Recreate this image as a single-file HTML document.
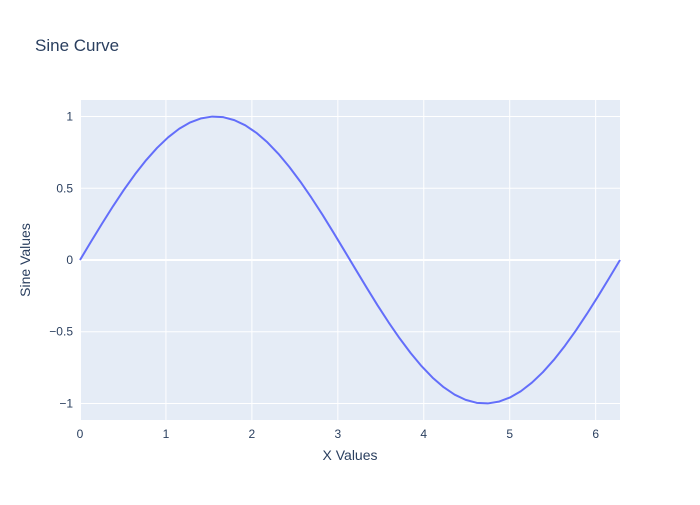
<!DOCTYPE html>
<html><head><meta charset="utf-8"><style>
body{margin:0;background:#fff;font-family:"Liberation Sans",sans-serif}
svg text{font-family:"Liberation Sans",sans-serif;fill:#2a3f5f}
</style></head><body>
<svg id="chart" width="700" height="500" xmlns="http://www.w3.org/2000/svg">
<rect width="700" height="500" fill="#fff"/>
<text x="35" y="51" font-size="17">Sine Curve</text>
<rect x="80" y="100" width="540" height="320" fill="#e5ecf6"/>
<g id="grid"></g><g id="ticks"></g>
<path id="line" fill="none" stroke="#636efa" stroke-width="2" stroke-linejoin="round"/>
<text x="350" y="460" font-size="14" text-anchor="middle">X Values</text>
<text transform="translate(30,260) rotate(-90)" font-size="14" text-anchor="middle">Sine Values</text>
</svg>
<script>
const xVals=[0,0.1282,0.2565,0.3847,0.5129,0.6411,0.7694,0.8976,1.0258,1.1541,1.2823,1.4105,1.5387,1.6670,1.7952,1.9234,2.0517,2.1799,2.3081,2.4363,2.5646,2.6928,2.8210,2.9493,3.0775,3.2057,3.3339,3.4622,3.5904,3.7186,3.8468,3.9751,4.1033,4.2315,4.3598,4.4880,4.6162,4.7444,4.8727,5.0009,5.1291,5.2574,5.3856,5.5138,5.6420,5.7703,5.8985,6.0267,6.1550,6.2832];
const yVals=[0,0.1279,0.2537,0.3753,0.4907,0.5981,0.6956,0.7818,0.8551,0.9148,0.9587,0.9872,0.9995,0.9954,0.9749,0.9384,0.8866,0.8205,0.7403,0.6482,0.5455,0.4339,0.3156,0.1912,0.0641,-0.0641,-0.1912,-0.3156,-0.4339,-0.5455,-0.6482,-0.7403,-0.8205,-0.8866,-0.9384,-0.9749,-0.9954,-0.9995,-0.9872,-0.9587,-0.9148,-0.8551,-0.7818,-0.6956,-0.5981,-0.4907,-0.3753,-0.2537,-0.1279,0];
const xTicks=[0,1,2,3,4,5,6];
const yTicks=[-1,-0.5,0,0.5,1];
const yTickLabels=["\u22121","\u22120.5","0","0.5","1"];
const X0=0,X1=6.2832,Y0=-1.115,Y1=1.115;
const sx=v=>80+(v-X0)/(X1-X0)*540;
const sy=v=>420-(v-Y0)/(Y1-Y0)*320;
const NS="http://www.w3.org/2000/svg";
const grid=document.getElementById('grid'),ticks=document.getElementById('ticks');
function mk(t,a,p){const e=document.createElementNS(NS,t);for(const k in a)e.setAttribute(k,a[k]);p.appendChild(e);return e;}
xTicks.forEach(t=>{
 const l=mk('line',{x1:sx(t),x2:sx(t),y1:100,y2:420,stroke:'#fff','stroke-width':t===0?2:1},grid);
 
 
 const tx=mk('text',{x:sx(t),y:438,'font-size':12,'text-anchor':'middle'},ticks);tx.textContent=t;
 
 
});
yTicks.forEach((t,i)=>{
 const l=mk('line',{x1:80,x2:620,y1:sy(t),y2:sy(t),stroke:'#fff','stroke-width':t===0?2:1},grid);
 
 
 const tx=mk('text',{x:73,y:sy(t)+4,'font-size':12,'text-anchor':'end'},ticks);tx.textContent=yTickLabels[i];
 
 
});
document.getElementById('line').setAttribute('d',xVals.map((x,i)=>(i?'L':'M')+sx(x).toFixed(2)+','+sy(yVals[i]).toFixed(2)).join(''));
</script>
</body></html>
